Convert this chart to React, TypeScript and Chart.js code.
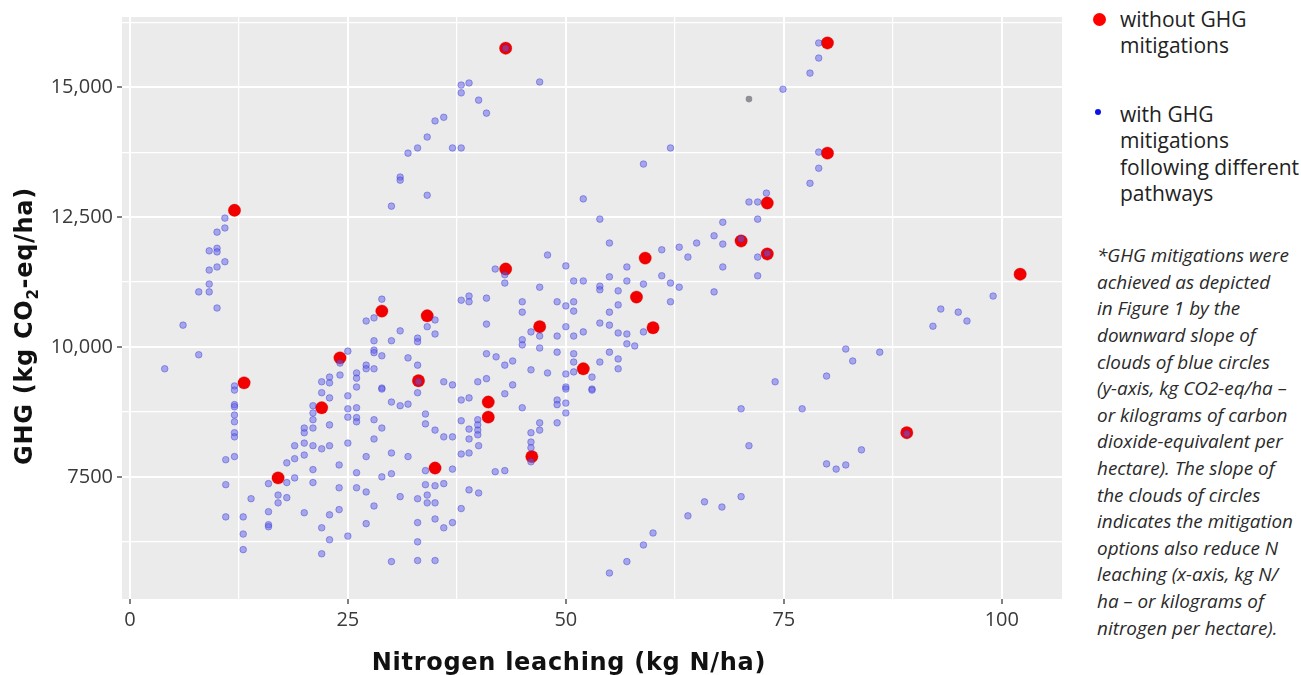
import React, { useEffect, useRef } from "react";
import { Chart, registerables } from "chart.js";

Chart.register(...registerables);

// Nitrogen leaching (kg N/ha), GHG (kg CO2-eq/ha) — farms without mitigation
const redPoints: [number, number][] = [
  [12.0, 12630], [13.1, 9310], [17.0, 7480], [22.0, 8830], [24.1, 9790],
  [28.9, 10690], [33.1, 9350], [34.1, 10600], [35.0, 7670], [43.1, 15750],
  [43.1, 11500], [41.1, 8940], [41.1, 8650], [46.1, 7890], [47.0, 10390],
  [52.0, 9580], [58.1, 10960], [59.1, 11710], [60.0, 10370], [70.1, 12040],
  [73.1, 12770], [73.1, 11790], [80.0, 15850], [80.0, 13730], [89.1, 8350],
  [102.1, 11400],
];

// farms with GHG mitigations following different pathways
const bluePoints: [number, number][] = [
  [10.9, 12480], [10.9, 12290], [10.0, 12210], [9.1, 11850], [10.0, 11900], [10.0, 11830],
  [10.9, 11640], [10.0, 11540], [9.1, 11480], [9.1, 11210], [7.9, 11060], [9.1, 11060],
  [10.0, 10750], [6.1, 10420], [7.9, 9850], [4.0, 9580],
  [12.0, 9250], [12.0, 9170], [12.0, 8890], [12.0, 8850], [12.0, 8690], [12.0, 8560],
  [12.0, 8350], [12.0, 8270], [12.0, 7890], [11.0, 7830], [11.0, 7350], [11.0, 6730],
  [13.0, 6730], [13.9, 7080], [13.0, 6400], [13.0, 6100],
  [15.9, 7370], [15.9, 6830], [15.9, 6580], [15.9, 6540], [17.0, 7150], [17.0, 7000],
  [18.0, 7390], [18.0, 7100], [18.0, 7770], [18.9, 7850], [18.9, 7480], [18.9, 8100],
  [20.0, 8150], [20.0, 7920], [20.0, 8350], [20.0, 8440], [20.0, 6810], [21.0, 8100],
  [21.0, 8440], [21.0, 8600], [21.0, 8730], [21.0, 8870], [21.0, 7640], [21.0, 7390],
  [22.0, 9330], [22.0, 9120], [22.0, 8040], [22.0, 6520], [22.0, 6020], [22.9, 9420],
  [22.9, 9310], [22.9, 9020], [22.9, 8500], [22.9, 8100], [22.9, 6770], [22.9, 6290],
  [24.1, 9690], [24.1, 9460], [24.0, 7730], [24.0, 7290], [24.0, 6870], [25.0, 9920],
  [25.0, 9060], [25.0, 8810], [25.0, 8650], [25.0, 8150], [25.0, 6360],
  [26.0, 9500], [26.0, 9400], [26.0, 9230], [26.0, 8830], [26.0, 8640], [26.0, 8560],
  [26.0, 7580], [26.0, 7290], [27.1, 10500], [27.1, 9650], [27.1, 9580], [27.1, 7890],
  [27.1, 7210], [27.1, 6600],
  [28.0, 10560], [28.0, 10120], [28.0, 9940], [28.0, 9890], [28.0, 9580], [28.0, 8600],
  [28.0, 8230], [28.0, 6940], [28.9, 10920], [28.9, 9830], [28.9, 9210], [28.9, 9190],
  [28.9, 8440], [28.9, 7500],
  [30.0, 12710], [30.0, 10120], [30.0, 8940], [30.0, 7960], [30.0, 7560], [30.0, 5870],
  [31.0, 13270], [31.0, 13210], [31.0, 10310], [31.0, 8870], [31.0, 7120], [31.9, 13730],
  [31.9, 9790], [31.9, 8900], [31.9, 7890],
  [33.0, 13830], [33.0, 10170], [33.0, 10100], [33.0, 9650], [33.0, 9120], [33.1, 9330],
  [33.0, 7080], [33.0, 6620], [33.0, 6250], [33.0, 5890], [33.9, 8710], [33.9, 8520],
  [33.9, 7620], [33.9, 7350], [34.1, 7150], [34.1, 7000], [34.1, 14040], [34.1, 12920],
  [34.1, 10390],
  [35.0, 14350], [35.0, 10520], [35.0, 10250], [35.0, 8400], [35.0, 7330], [35.0, 7000],
  [35.0, 6690], [35.0, 5890], [36.0, 14420], [36.0, 9330], [36.0, 8270], [36.0, 7370],
  [36.0, 6520], [37.0, 13830], [37.0, 9270], [37.0, 8270], [37.0, 7650], [37.0, 6620],
  [38.0, 15040], [38.0, 14890], [38.0, 13830], [38.0, 10900], [38.0, 8980], [38.0, 8580],
  [38.0, 7940], [38.0, 6890], [38.9, 15080], [38.9, 10980], [38.9, 10870], [38.9, 9020],
  [38.9, 8420], [38.9, 8230], [38.9, 7960], [38.9, 7250],
  [40.0, 14750], [39.9, 9330], [39.9, 8600], [39.9, 8500], [39.9, 8400], [39.9, 8310],
  [40.0, 8100], [40.0, 7190], [40.9, 14500], [40.9, 10940], [40.9, 10440], [40.9, 9870],
  [40.9, 9390], [42.0, 9810], [41.9, 11500], [41.9, 7600],
  [43.1, 15750], [43.0, 11390], [43.0, 11230], [43.0, 9650], [43.0, 9100], [43.0, 7620],
  [43.9, 9730], [43.9, 9270],
  [45.0, 10870], [45.0, 10670], [45.0, 10140], [45.0, 10040], [45.0, 8830], [46.0, 10290],
  [46.0, 9560], [46.0, 8350], [46.0, 8170], [46.0, 8060], [46.0, 7790],
  [47.0, 15100], [47.0, 11150], [47.0, 10210], [47.0, 9980], [47.0, 8540], [47.0, 8400],
  [47.9, 11770], [47.9, 9500],
  [49.0, 10870], [49.0, 10210], [49.0, 9900], [49.0, 8980], [49.0, 8890], [49.0, 8540],
  [50.0, 11560], [50.0, 10790], [50.0, 10390], [50.0, 9480], [50.0, 9230], [50.0, 9190],
  [50.0, 8920], [50.0, 8730], [50.9, 11270], [50.9, 10870], [50.9, 10690], [50.9, 10210],
  [50.9, 9870], [50.9, 9710], [50.9, 9520],
  [52.0, 12850], [52.0, 11270], [52.0, 10290], [53.0, 9420], [53.0, 9190], [53.0, 9170],
  [53.9, 12460], [53.9, 11170], [53.9, 11100], [53.9, 10460], [53.9, 9710],
  [55.0, 12000], [55.0, 11350], [55.0, 10670], [55.0, 10420], [55.0, 9900], [55.0, 5650],
  [56.0, 11080], [56.0, 10810], [56.0, 10270], [56.0, 9770], [56.0, 9580], [57.0, 11540],
  [57.0, 11270], [57.0, 10250], [57.0, 10060], [57.0, 5870], [57.9, 10020],
  [58.9, 13520], [58.9, 11210], [58.9, 10290], [58.9, 6190], [60.0, 6420], [61.0, 11870],
  [61.0, 11370], [62.0, 13830], [62.0, 11230], [62.0, 10870], [63.0, 11920], [63.0, 11150],
  [64.0, 11730], [64.0, 6750], [65.0, 12000], [65.9, 7020],
  [67.0, 12140], [67.0, 11060], [68.0, 12400], [68.0, 11980], [68.0, 11540], [67.9, 6920],
  [70.1, 12080], [70.1, 8810], [70.1, 7120], [71.0, 12790], [71.0, 8100], [72.0, 12790],
  [72.0, 12460], [72.0, 11730], [72.0, 11370], [73.0, 12960], [73.1, 11800], [74.0, 9330],
  [74.9, 14960],
  [77.1, 8810], [78.0, 15270], [78.0, 13150], [79.0, 15850], [79.0, 15560], [79.0, 13750],
  [79.0, 13440], [79.9, 9440], [79.9, 7750], [81.0, 7650], [82.1, 9960], [82.1, 7730],
  [82.9, 9730], [83.9, 8020], [86.0, 9900], [89.1, 8330],
  [92.1, 10400], [93.0, 10730], [95.0, 10670], [96.0, 10500], [99.0, 10980],
];

const grayPoints: [number, number][] = [[71.0, 14770]];

const xGridValues = [0, 12.5, 25, 37.5, 50, 62.5, 75, 87.5, 100];
const xTickValues = [0, 25, 50, 75, 100];
const xTickLabels = ["0", "25", "50", "75", "100"];
const yGridValues = [6250, 7500, 8750, 10000, 11250, 12500, 13750, 15000, 16250];
const yTickValues = [7500, 10000, 12500, 15000];
const yTickLabels = ["7500", "10,000", "12,500", "15,000"];

const xTitle = "Nitrogen leaching (kg N/ha)";
const legendRed = ["without GHG", "mitigations"];
const legendBlue = ["with GHG", "mitigations", "following different", "pathways"];
const noteLines = [
  "*GHG mitigations were",
  "achieved as depicted",
  "in Figure 1 by the",
  "downward slope of",
  "clouds of blue circles",
  "(y-axis, kg CO2-eq/ha –",
  "or kilograms of carbon",
  "dioxide-equivalent per",
  "hectare). The slope of",
  "the clouds of circles",
  "indicates the mitigation",
  "options also reduce N",
  "leaching (x-axis, kg N/",
  "ha – or kilograms of",
  "nitrogen per hectare).",
];

const panelBg = {
  id: "panelBg",
  beforeDraw(chart: any) {
    const { ctx, chartArea } = chart;
    ctx.save();
    ctx.fillStyle = "#EBEBEB";
    ctx.fillRect(chartArea.left, chartArea.top, chartArea.right - chartArea.left, chartArea.bottom - chartArea.top);
    ctx.restore();
  },
};

const tickFont = { family: "'Open Sans', sans-serif", size: 20 };

export default function App() {
  const ref = useRef<HTMLCanvasElement | null>(null);

  useEffect(() => {
    if (!ref.current) return;
    const isMajorX = (v: number) => xTickValues.includes(v);
    const isMajorY = (v: number) => yTickValues.includes(v);
    const chart = new Chart(ref.current, {
      type: "scatter",
      data: {
        datasets: [
          {
            label: "with GHG mitigations following different pathways",
            data: bluePoints.map(([x, y]) => ({ x, y })),
            pointRadius: 3.3,
            pointBackgroundColor: "rgba(95,95,235,0.5)",
            pointBorderColor: "rgba(50,50,210,0.4)",
            pointBorderWidth: 1,
            order: 1,
          },
          {
            label: "other",
            data: grayPoints.map(([x, y]) => ({ x, y })),
            pointRadius: 3.3,
            pointBackgroundColor: "rgba(120,120,130,0.8)",
            pointBorderWidth: 0,
            order: 1,
          },
          {
            label: "without GHG mitigations",
            data: redPoints.map(([x, y]) => ({ x, y })),
            pointRadius: 6.2,
            pointBackgroundColor: "#F20000",
            pointBorderColor: "rgba(200,0,0,0.6)",
            pointBorderWidth: 0.5,
            order: 2,
          },
        ],
      },
      options: {
        responsive: false,
        animation: false,
        events: [],
        layout: { padding: { left: 0, right: 13, top: 17, bottom: 0 } },
        plugins: { legend: { display: false }, tooltip: { enabled: false } },
        scales: {
          x: {
            type: "linear",
            min: -0.9,
            max: 106.9,
            afterBuildTicks: (s: any) => {
              s.ticks = xGridValues.map((v) => ({ value: v }));
            },
            afterFit: (s: any) => {
              s.height = 76;
            },
            border: { display: false },
            grid: {
              color: "#FFFFFF",
              lineWidth: (c: any) => (isMajorX(c.tick?.value) ? 2 : 1.2),
              tickColor: (c: any) => (isMajorX(c.tick?.value) ? "#555555" : "rgba(0,0,0,0)"),
              tickLength: 5,
              tickWidth: 1.5,
            },
            ticks: {
              autoSkip: false,
              maxRotation: 0,
              padding: 4,
              color: "#3a3a3a",
              font: tickFont,
              callback: (v: any) => {
                const i = xTickValues.indexOf(Number(v));
                return i >= 0 ? xTickLabels[i] : "";
              },
            },
          },
          y: {
            type: "linear",
            min: 5150,
            max: 16350,
            afterBuildTicks: (s: any) => {
              s.ticks = yGridValues.map((v) => ({ value: v }));
            },
            afterFit: (s: any) => {
              s.width = 122;
            },
            border: { display: false },
            grid: {
              color: "#FFFFFF",
              lineWidth: (c: any) => (isMajorY(c.tick?.value) ? 2 : 1.2),
              tickColor: (c: any) => (isMajorY(c.tick?.value) ? "#555555" : "rgba(0,0,0,0)"),
              tickLength: 5,
              tickWidth: 1.5,
            },
            ticks: {
              autoSkip: false,
              padding: 4,
              color: "#3a3a3a",
              font: tickFont,
              callback: (v: any) => {
                const i = yTickValues.indexOf(Number(v));
                return i >= 0 ? yTickLabels[i] : "";
              },
            },
          },
        },
      },
      plugins: [panelBg],
    });
    return () => chart.destroy();
  }, []);

  const titleFont: React.CSSProperties = {
    fontFamily: "'DejaVu Sans', sans-serif",
    fontWeight: "bold",
    fontSize: 24,
    letterSpacing: 0.7,
    color: "#111",
    whiteSpace: "nowrap",
    lineHeight: "30px",
    textAlign: "center",
    position: "absolute",
  };

  const legendText: React.CSSProperties = {
    position: "absolute",
    left: 1120,
    fontFamily: "'Open Sans', sans-serif",
    fontSize: 21,
    lineHeight: "26.5px",
    color: "#222",
    whiteSpace: "nowrap",
  };

  return (
    <div style={{ position: "absolute", left: 0, top: 0, width: 1301, height: 675, background: "#fff", overflow: "hidden" }}>
      <canvas ref={ref} width={1075} height={675} style={{ position: "absolute", left: 0, top: 0, display: "block" }} />
      <div style={{ ...titleFont, left: 269, top: 647, width: 600, height: 30 }}>{xTitle}</div>
      <div
        style={{
          ...titleFont,
          left: 23.5 - 200,
          top: 326 - 15,
          width: 400,
          height: 30,
          transform: "rotate(-90deg)",
          transformOrigin: "50% 50%",
        }}
      >
        GHG (kg CO<span style={{ fontSize: 15, position: "relative", top: 6 }}>2</span>-eq/ha)
      </div>

      <div style={{ position: "absolute", left: 1093, top: 13, width: 13, height: 13, borderRadius: "50%", background: "#FF0000" }} />
      <div style={{ ...legendText, top: 5.6 }}>
        {legendRed.map((l) => (
          <div key={l}>{l}</div>
        ))}
      </div>
      <div style={{ position: "absolute", left: 1095, top: 109, width: 6, height: 6, borderRadius: "50%", background: "#1010E8" }} />
      <div style={{ ...legendText, top: 100.6 }}>
        {legendBlue.map((l) => (
          <div key={l}>{l}</div>
        ))}
      </div>

      <div
        style={{
          position: "absolute",
          left: 1097,
          top: 242.2,
          fontFamily: "'Open Sans', sans-serif",
          fontStyle: "italic",
          fontSize: 18.9,
          lineHeight: "26.6px",
          color: "#2a2a2a",
          whiteSpace: "nowrap",
        }}
      >
        {noteLines.map((l, i) => (
          <div key={i}>{l}</div>
        ))}
      </div>
    </div>
  );
}
